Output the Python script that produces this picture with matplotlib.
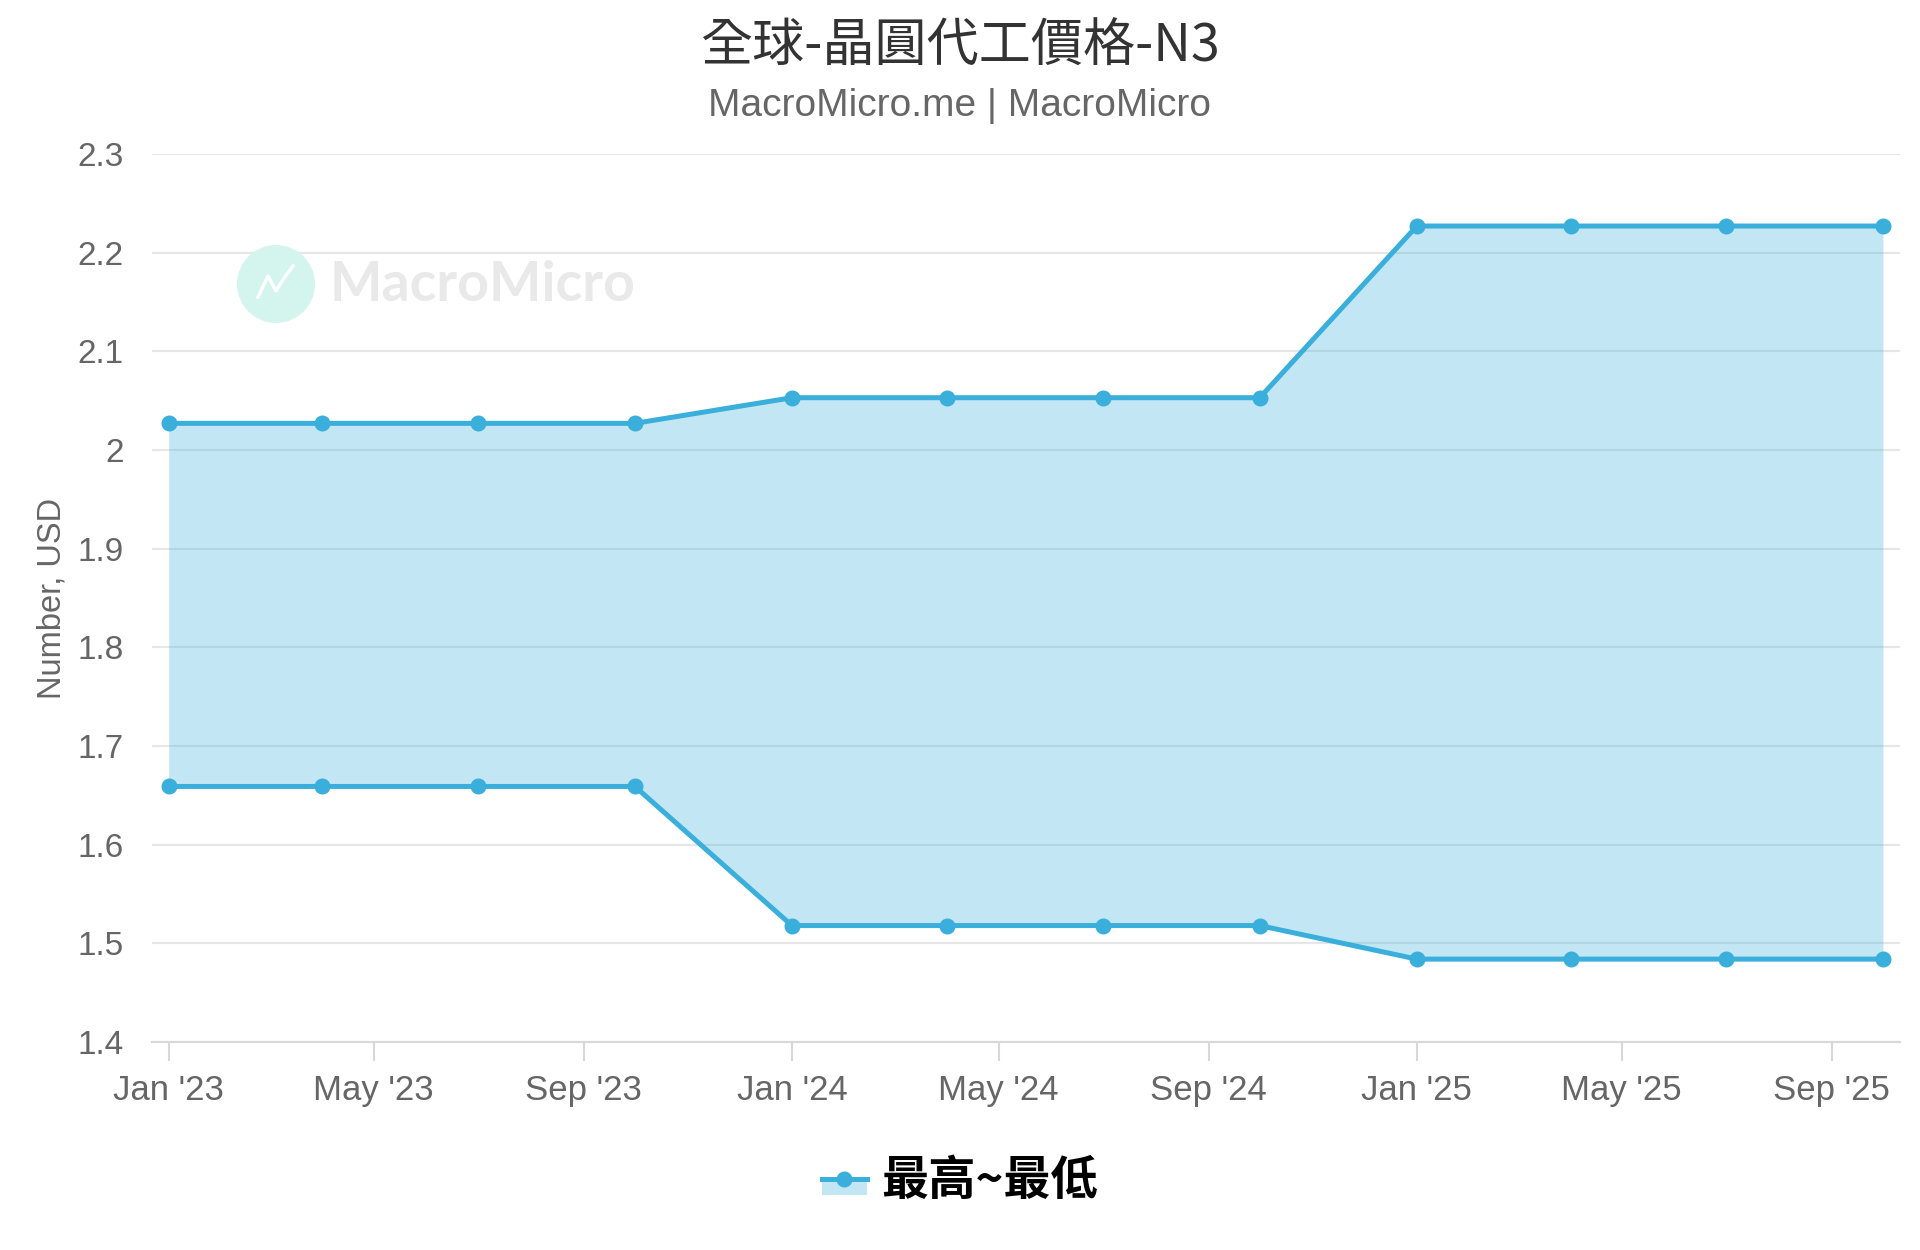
import matplotlib
matplotlib.use("Agg")
import matplotlib.pyplot as plt
import matplotlib.dates as mdates
from matplotlib.patches import Ellipse, Patch, Rectangle
from matplotlib.lines import Line2D
from matplotlib.legend_handler import HandlerTuple, HandlerPatch
import pandas as pd

plt.rcParams['font.family'] = ['Liberation Sans', 'Noto Sans CJK TC', 'DejaVu Sans']

# quarterly N3 wafer price range (USD)
dates = pd.date_range("2023-01-01", "2025-10-01", freq="QS")
high = [2.027, 2.027, 2.027, 2.027, 2.053, 2.053, 2.053, 2.053, 2.227, 2.227, 2.227, 2.227]
low = [1.659, 1.659, 1.659, 1.659, 1.518, 1.518, 1.518, 1.518, 1.484, 1.484, 1.484, 1.484]
yticks = [1.4, 1.5, 1.6, 1.7, 1.8, 1.9, 2.0, 2.1, 2.2, 2.3]

blue = "#3aafdb"
grid = "#e6e6e6"
text_gray = "#666666"

fig = plt.figure(figsize=(19.2, 12.5), dpi=100)
ax = fig.add_axes([0.079, 0.1664, 0.9106, 0.7104])

ax.fill_between(dates, low, high, color=blue, alpha=0.3, linewidth=0, zorder=2)
ax.plot(dates, high, color=blue, lw=3.6, marker="o", ms=10.5, zorder=3)
ax.plot(dates, low, color=blue, lw=3.6, marker="o", ms=10.5, zorder=3)

ax.set_ylim(1.4, 2.3)
ax.set_yticks(yticks)
ax.set_yticklabels([f"{v:g}" for v in yticks])
ax.set_xlim(pd.Timestamp("2022-12-22"), pd.Timestamp("2025-10-11"))
ax.xaxis.set_major_locator(mdates.MonthLocator(bymonth=[1, 5, 9]))
ax.xaxis.set_major_formatter(mdates.DateFormatter("%b '%y"))

ax.grid(axis="y", color=grid, lw=1.5, zorder=1)
for s in ["top", "right", "left"]:
    ax.spines[s].set_visible(False)
ax.spines["bottom"].set_color("#d8d8d8")
ax.spines["bottom"].set_linewidth(1.5)
ax.tick_params(axis="y", length=0, pad=20, labelsize=24, labelcolor=text_gray)
ax.tick_params(axis="x", length=14, width=1.5, color="#d8d8d8", pad=9,
               labelsize=25, labelcolor=text_gray)
ax.set_ylabel("Number, USD", fontsize=23.5, color=text_gray, labelpad=7)

fig.text(0.5, 0.962, "全球-晶圓代工價格-N3", ha="center", va="center",
         fontsize=37.5, color="#333333", family=["Noto Sans CJK TC"])
fig.text(0.5, 0.915, "MacroMicro.me | MacroMicro", ha="center", va="center",
         fontsize=28, color=text_gray)

# watermark
fig.patches.append(Ellipse((276 / 1920, 1 - 284 / 1250), 78 / 1920, 78 / 1250,
                           transform=fig.transFigure, facecolor="#d4f4ee",
                           edgecolor="none", zorder=0))
fig.lines.append(Line2D([258 / 1920, 268 / 1920, 276 / 1920, 284 / 1920, 293 / 1920],
                        [1 - 297 / 1250, 1 - 276 / 1250, 1 - 291 / 1250, 1 - 278 / 1250, 1 - 266 / 1250],
                        transform=fig.transFigure, color="white", lw=2.5, zorder=1))
fig.text(329 / 1920, 1 - 285 / 1250, "MacroMicro", ha="left", va="center",
         fontsize=40, fontweight="bold", color="#e9e9e9", family=["Lato"], zorder=0)


def lower_half(legend, orig_handle, xdescent, ydescent, width, height, fontsize):
    return Rectangle((-xdescent, -ydescent), width, height / 2 + 1)


handle = (Patch(facecolor=blue, alpha=0.3, edgecolor="none"),
          Line2D([], [], color=blue, lw=3.6, marker="o", ms=10.5))
fig.legend([handle], ["最高~最低"], loc="center", bbox_to_anchor=(0.5, 0.055),
           frameon=False,
           handler_map={tuple: HandlerTuple(ndivide=1),
                        Patch: HandlerPatch(patch_func=lower_half)},
           prop={"family": ["Noto Sans CJK TC"], "weight": "bold", "size": 34},
           handlelength=0.95, handletextpad=0.3)

fig.savefig("out.png", dpi=100)
